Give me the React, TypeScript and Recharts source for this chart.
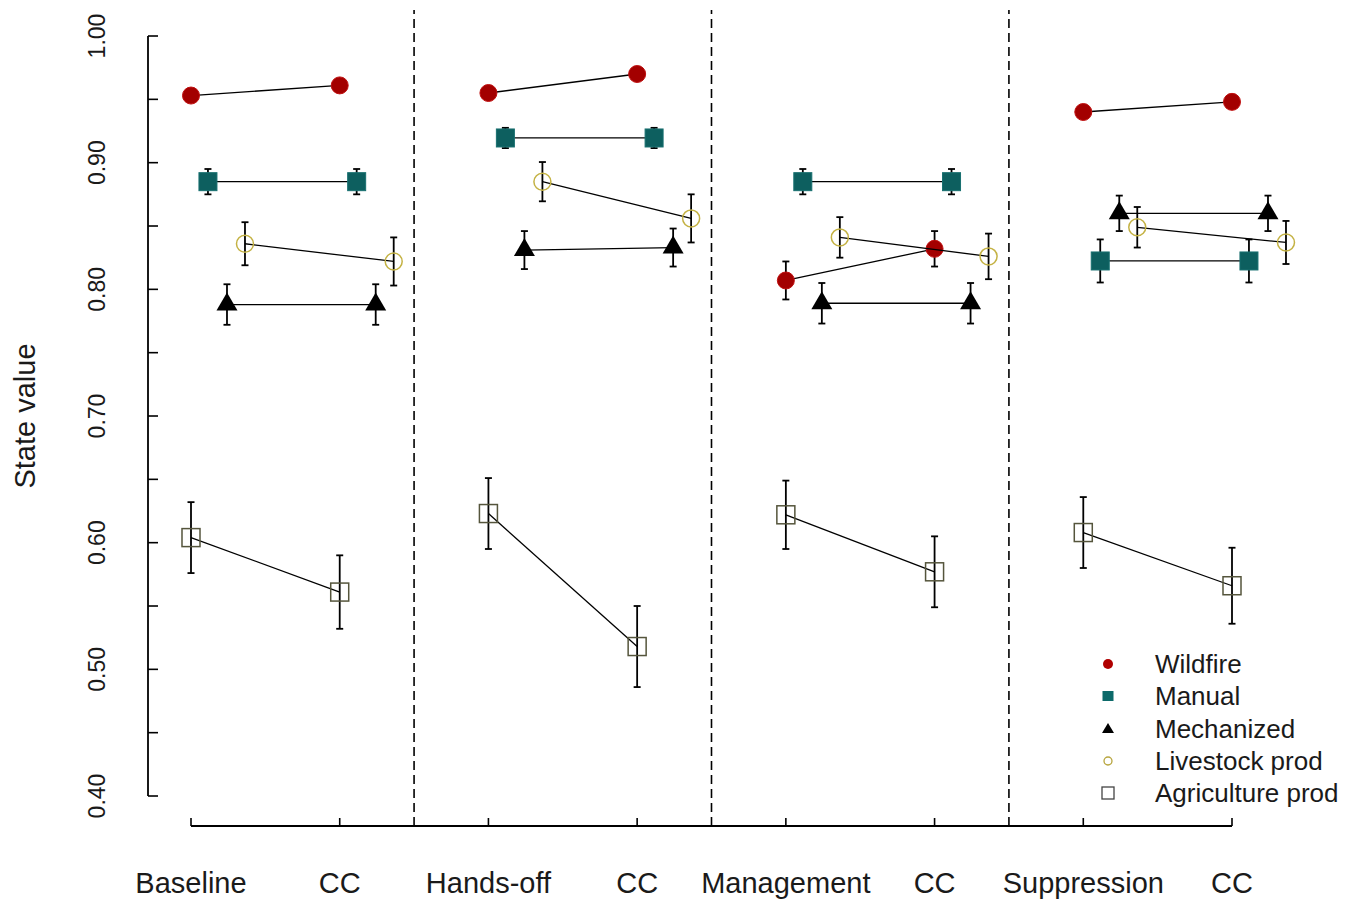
import React from 'react';
import { ScatterChart, Scatter, XAxis, YAxis, ErrorBar, ReferenceLine, Legend } from 'recharts';

// x-axis categories (scenario, then its climate-change counterpart)
const CATEGORIES = ['Baseline', 'CC', 'Hands-off', 'CC', 'Management', 'CC', 'Suppression', 'CC'];
const CAT_POS = [1, 2, 3, 4, 5, 6, 7, 8];
const DIVIDERS = [2.5, 4.5, 6.5];
const Y_TICKS = [0.4, 0.45, 0.5, 0.55, 0.6, 0.65, 0.7, 0.75, 0.8, 0.85, 0.9, 0.95, 1.0];

// state values, one per category, and their error half-widths
const wildfire = [0.953, 0.961, 0.955, 0.97, 0.807, 0.832, 0.94, 0.948];
const wildfireErr = [0.004, 0.004, 0.004, 0.004, 0.015, 0.014, 0.004, 0.004];
const manual = [0.885, 0.885, 0.9195, 0.9195, 0.885, 0.885, 0.8224, 0.8224];
const manualErr = [0.01, 0.01, 0.008, 0.008, 0.01, 0.01, 0.017, 0.017];
const mechanized = [0.788, 0.788, 0.831, 0.833, 0.789, 0.789, 0.86, 0.86];
const mechanizedErr = [0.016, 0.016, 0.015, 0.015, 0.016, 0.016, 0.014, 0.014];
const livestock = [0.836, 0.822, 0.885, 0.856, 0.841, 0.826, 0.849, 0.837];
const livestockErr = [0.017, 0.019, 0.0155, 0.019, 0.016, 0.018, 0.016, 0.017];
const agriculture = [0.604, 0.561, 0.623, 0.518, 0.622, 0.577, 0.608, 0.566];
const agricultureErr = [0.028, 0.029, 0.028, 0.032, 0.027, 0.028, 0.028, 0.03];

// plot frame (R style detached axes)
const X_MIN = 0.71086;
const X_MAX = 8.55139;
const Y_MIN = 0.37632;
const Y_MAX = 1.02053;

const SERIES = [
  { name: 'Wildfire', values: wildfire, errors: wildfireErr, dodge: 0, kind: 'wildfire' },
  { name: 'Manual', values: manual, errors: manualErr, dodge: 0.114, kind: 'manual' },
  { name: 'Mechanized', values: mechanized, errors: mechanizedErr, dodge: 0.242, kind: 'mechanized' },
  { name: 'Livestock prod', values: livestock, errors: livestockErr, dodge: 0.363, kind: 'livestock' },
  { name: 'Agriculture prod', values: agriculture, errors: agricultureErr, dodge: 0, kind: 'agriculture' },
];

const GROUPS = [0, 1, 2, 3];
const TEXT = '#1a1a1a';

function pairPoints(s: (typeof SERIES)[number], g: number) {
  return [2 * g, 2 * g + 1].map((i) => ({ x: CAT_POS[i] + s.dodge, y: s.values[i], err: s.errors[i] }));
}

function markerShape(kind: string) {
  return (props: any) => {
    const { cx, cy } = props;
    if (cx == null || cy == null) return <g />;
    switch (kind) {
      case 'wildfire':
        return <circle cx={cx} cy={cy} r={8.5} fill="#a30000" stroke="#c01010" strokeWidth={1} />;
      case 'manual':
        return <rect x={cx - 9} y={cy - 9} width={18} height={18} fill="#0d5f5f" stroke="#187070" strokeWidth={1} />;
      case 'mechanized':
        return <polygon points={`${cx},${cy - 12} ${cx - 10.5},${cy + 6} ${cx + 10.5},${cy + 6}`} fill="#000" />;
      case 'livestock':
        return <circle cx={cx} cy={cy} r={8.5} fill="none" stroke="#c4b244" strokeWidth={1.5} />;
      default:
        return <rect x={cx - 9} y={cy - 9} width={18} height={18} fill="none" stroke="#55553c" strokeWidth={1.5} />;
    }
  };
}

const emptyShape = () => <g />;

function XTick(props: any) {
  const { x, y, payload } = props;
  const label = CATEGORIES[CAT_POS.indexOf(payload.value)];
  return (
    <g>
      <line x1={x} x2={x} y1={y - 8} y2={y} stroke="#000" strokeWidth={1.6} />
      <text x={x} y={y + 67} textAnchor="middle" fontSize={29} fill={TEXT}>
        {label}
      </text>
    </g>
  );
}

function YTick(props: any) {
  const { x, y, payload } = props;
  const v = payload.value as number;
  const major = Math.round(v * 100) % 10 === 0;
  const tx = x - 43;
  return (
    <g>
      <line x1={x} x2={x + 10} y1={y} y2={y} stroke="#000" strokeWidth={1.6} />
      {major && (
        <text x={tx} y={y} transform={`rotate(-90 ${tx} ${y})`} textAnchor="middle" fontSize={23} fill={TEXT}>
          {v.toFixed(2)}
        </text>
      )}
    </g>
  );
}

function LegendSymbol({ kind }: { kind: string }) {
  let el;
  if (kind === 'wildfire') el = <circle cx={10} cy={10} r={5} fill="#b00000" />;
  else if (kind === 'manual') el = <rect x={4.5} y={5} width={11} height={10} fill="#0d6a6a" />;
  else if (kind === 'mechanized') el = <polygon points="10,4 4,14 16,14" fill="#000" />;
  else if (kind === 'livestock') el = <circle cx={10} cy={10} r={4} fill="none" stroke="#b8a640" strokeWidth={1.3} />;
  else el = <rect x={4} y={4} width={12} height={12} fill="none" stroke="#444" strokeWidth={1.3} />;
  return (
    <svg width={20} height={20} style={{ position: 'absolute', left: 3, top: 6 }}>
      {el}
    </svg>
  );
}

function renderLegend() {
  return (
    <div style={{ position: 'relative', width: 260 }}>
      {SERIES.map((s) => (
        <div key={s.name} style={{ position: 'relative', height: 32.25 }}>
          <LegendSymbol kind={s.kind} />
          <span
            style={{
              position: 'absolute',
              left: 60,
              top: 0,
              lineHeight: '32.25px',
              fontSize: 26,
              color: TEXT,
              whiteSpace: 'nowrap',
            }}
          >
            {s.name}
          </span>
        </div>
      ))}
    </div>
  );
}

export default function App() {
  return (
    <div
      style={{
        position: 'absolute',
        left: 0,
        top: 0,
        width: 1356,
        height: 899,
        background: '#fff',
        fontFamily: '"Liberation Sans", Arial, sans-serif',
      }}
    >
      <ScatterChart width={1356} height={899} margin={{ top: 10, right: 42, bottom: 0, left: 0 }}>
        <XAxis
          type="number"
          dataKey="x"
          domain={[X_MIN, X_MAX]}
          ticks={CAT_POS}
          interval={0}
          allowDataOverflow
          axisLine={false}
          tickLine={false}
          tickSize={0}
          tickMargin={0}
          height={73}
          tick={XTick}
        />
        <YAxis
          type="number"
          dataKey="y"
          domain={[Y_MIN, Y_MAX]}
          ticks={Y_TICKS}
          interval={0}
          allowDataOverflow
          axisLine={false}
          tickLine={false}
          tickSize={0}
          tickMargin={0}
          width={148}
          tick={YTick}
          label={() => (
            <text x={35} y={416} transform="rotate(-90 35 416)" textAnchor="middle" fontSize={29} fill={TEXT}>
              State value
            </text>
          )}
        />
        <ReferenceLine
          segment={[{ x: X_MIN, y: 0.4 }, { x: X_MIN, y: 1.0 }]}
          stroke="#000"
          strokeWidth={1.8}
          ifOverflow="visible"
        />
        <ReferenceLine
          segment={[{ x: 1, y: Y_MIN }, { x: 8, y: Y_MIN }]}
          stroke="#000"
          strokeWidth={1.8}
          ifOverflow="visible"
        />
        {DIVIDERS.map((d) => (
          <ReferenceLine
            key={d}
            segment={[{ x: d, y: Y_MIN }, { x: d, y: Y_MAX }]}
            stroke="#000"
            strokeWidth={1.6}
            strokeDasharray="9 5"
            ifOverflow="visible"
          />
        ))}
        {SERIES.flatMap((s) =>
          GROUPS.map((g) => (
            <Scatter
              key={`${s.name}-m${g}`}
              name={s.name}
              data={pairPoints(s, g)}
              line={{ stroke: '#000', strokeWidth: 1.3 }}
              lineType="joint"
              shape={markerShape(s.kind)}
              legendType="none"
              isAnimationActive={false}
            />
          ))
        )}
        {SERIES.flatMap((s) =>
          GROUPS.map((g) => (
            <Scatter
              key={`${s.name}-e${g}`}
              data={pairPoints(s, g)}
              shape={emptyShape}
              legendType="none"
              isAnimationActive={false}
            >
              <ErrorBar dataKey="err" direction="y" width={3.5} stroke="#000" strokeWidth={1.8} />
            </Scatter>
          ))
        )}
        <Legend
          layout="vertical"
          align="center"
          verticalAlign="middle"
          content={renderLegend}
          wrapperStyle={{ left: 1095, top: 648, width: 260 }}
        />
      </ScatterChart>
    </div>
  );
}
